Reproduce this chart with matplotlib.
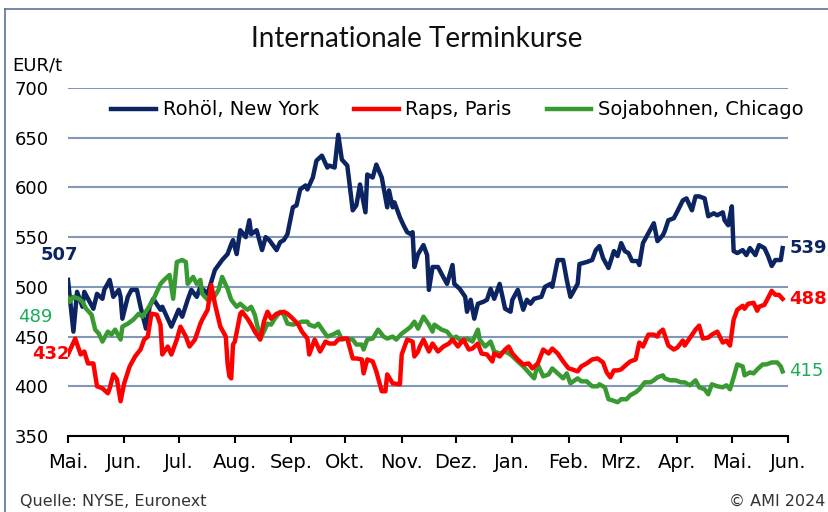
# Internationale Terminkurse: Rohöl, Raps, Soja (EUR/t), Mai 2023 - Mai 2024

import pandas as pd
import matplotlib.pyplot as plt
from matplotlib.lines import Line2D

# Data: day offset from 2023-05-01, price in EUR/t
start = pd.Timestamp('2023-05-01')

crude_day = [0, 3, 5, 8, 9, 14, 16, 19, 20, 23, 25, 28, 29, 30, 33, 35, 38, 40, 43, 45,
             47, 51, 52, 57, 61, 63, 66, 68, 71, 73, 77, 81, 85, 88, 90, 91, 93, 95, 98, 100,
             101, 104, 107, 109, 111, 115, 117, 119, 121, 124, 126, 128, 131, 132, 135, 137, 140, 143, 144, 147,
             149, 151, 154, 157, 159, 161, 164, 165, 168, 170, 173, 176, 177, 179, 180, 183, 185, 187, 189, 190,
             191, 193, 196, 198, 199, 201, 204, 206, 209, 212, 213, 216, 219, 220, 222, 224, 226, 229, 231, 233,
             235, 238, 241, 244, 245, 248, 251, 253, 255, 257, 261, 263, 266, 267, 270, 271, 273, 275, 277, 281,
             282, 286, 289, 291, 293, 295, 298, 301, 303, 305, 307, 309, 311, 314, 315, 317, 320, 323, 325, 328,
             329, 331, 334, 336, 339, 341, 344, 346, 348, 351, 353, 356, 358, 361, 362, 364, 366, 367, 369, 372,
             374, 376, 379, 381, 384, 386, 388, 390, 393, 394]
crude_val = [507, 455, 495, 480, 495, 478, 493, 488, 497, 507, 490, 497, 490, 468, 490, 497, 497, 480, 458, 480,
             488, 477, 480, 460, 477, 470, 487, 497, 490, 500, 493, 517, 527, 533, 543, 547, 533, 557, 550, 567,
             553, 557, 537, 550, 547, 537, 545, 547, 553, 580, 582, 598, 602, 598, 610, 627, 632, 620, 622, 620,
             653, 628, 622, 577, 582, 603, 575, 613, 610, 623, 610, 580, 597, 580, 585, 570, 562, 555, 553, 555,
             520, 533, 542, 532, 497, 520, 520, 513, 503, 522, 503, 498, 490, 475, 487, 468, 483, 485, 487, 498,
             488, 503, 478, 475, 487, 497, 477, 487, 483, 488, 490, 500, 503, 500, 527, 527, 527, 507, 490, 503,
             523, 525, 527, 537, 541, 529, 519, 536, 531, 544, 536, 534, 526, 526, 522, 544, 554, 564, 546, 552,
             556, 567, 569, 576, 587, 589, 577, 591, 591, 589, 571, 574, 572, 575, 567, 562, 581, 536, 534, 537,
             532, 539, 532, 542, 539, 531, 521, 527, 527, 539]

rape_day = [0, 2, 4, 7, 9, 11, 14, 16, 19, 22, 23, 25, 27, 29, 31, 34, 37, 40, 42, 44,
            46, 49, 51, 52, 55, 57, 60, 62, 65, 67, 70, 73, 74, 77, 79, 81, 84, 87, 88, 89,
            90, 91, 92, 95, 96, 99, 101, 103, 106, 108, 110, 112, 115, 119, 121, 124, 127, 129, 132, 133,
            136, 139, 142, 144, 147, 149, 152, 154, 157, 159, 162, 163, 165, 168, 170, 173, 175, 176, 179, 183,
            184, 187, 190, 191, 193, 194, 196, 199, 201, 204, 207, 210, 212, 215, 218, 221, 223, 226, 228, 231,
            234, 235, 238, 241, 243, 245, 248, 251, 254, 256, 259, 262, 265, 267, 270, 273, 276, 278, 281, 283,
            286, 289, 292, 295, 297, 299, 301, 303, 305, 308, 310, 313, 315, 317, 320, 323, 325, 326, 328, 331,
            334, 336, 339, 340, 343, 346, 348, 350, 353, 355, 358, 361, 363, 365, 367, 369, 372, 373, 375, 378,
            380, 381, 384, 386, 388, 390, 392, 394]
rape_val = [432, 440, 448, 432, 435, 423, 423, 400, 398, 393, 398, 412, 407, 385, 403, 420, 430, 437, 447, 450,
            473, 472, 462, 432, 440, 432, 447, 460, 450, 440, 447, 463, 467, 477, 502, 483, 460, 450, 423, 410,
            408, 442, 445, 473, 475, 468, 462, 455, 447, 465, 475, 468, 473, 475, 473, 468, 462, 455, 448, 432,
            447, 435, 445, 443, 443, 447, 448, 448, 428, 428, 427, 413, 427, 425, 415, 395, 395, 412, 403, 402,
            432, 447, 445, 430, 435, 440, 447, 435, 443, 435, 440, 443, 447, 440, 447, 437, 438, 443, 433, 432,
            425, 433, 430, 437, 440, 433, 427, 422, 423, 418, 423, 437, 433, 438, 433, 425, 418, 417, 415, 420,
            423, 427, 428, 424, 414, 409, 416, 416, 417, 422, 425, 427, 444, 440, 452, 452, 450, 454, 457, 441,
            437, 439, 446, 441, 449, 457, 461, 448, 449, 452, 455, 444, 446, 441, 467, 477, 481, 478, 483, 484,
            476, 480, 482, 489, 496, 492, 492, 488]

soy_day = [0, 1, 3, 6, 8, 10, 13, 15, 17, 19, 22, 24, 26, 29, 30, 33, 36, 39, 41, 44,
           47, 49, 51, 53, 56, 58, 60, 63, 65, 66, 69, 71, 73, 74, 77, 80, 83, 85, 88, 90,
           93, 95, 98, 99, 101, 103, 106, 108, 110, 112, 114, 117, 119, 121, 124, 126, 129, 132, 133, 136,
           138, 141, 143, 146, 149, 151, 153, 157, 159, 162, 163, 165, 168, 171, 174, 176, 179, 181, 184, 187,
           189, 191, 193, 196, 199, 201, 202, 206, 209, 212, 214, 217, 220, 223, 226, 227, 230, 233, 235, 238,
           241, 244, 248, 251, 255, 257, 259, 262, 265, 267, 270, 273, 275, 277, 281, 283, 286, 289, 292, 293,
           296, 298, 300, 303, 305, 308, 310, 313, 315, 318, 321, 323, 325, 328, 329, 332, 335, 338, 340, 343,
           346, 348, 351, 353, 355, 358, 361, 363, 365, 367, 369, 372, 373, 376, 378, 380, 383, 385, 388, 391,
           393, 394]
soy_val = [489, 485, 490, 488, 485, 478, 472, 457, 453, 445, 455, 452, 457, 447, 460, 463, 467, 473, 470, 478,
           487, 495, 503, 507, 512, 488, 525, 527, 525, 503, 510, 503, 507, 493, 487, 488, 497, 510, 498, 487,
           480, 483, 478, 477, 480, 472, 448, 455, 463, 462, 468, 475, 472, 463, 462, 463, 465, 465, 462, 460,
           463, 455, 450, 452, 455, 447, 448, 447, 442, 442, 437, 447, 448, 457, 450, 448, 450, 447, 453, 457,
           460, 465, 458, 470, 462, 455, 462, 457, 455, 448, 450, 445, 448, 445, 457, 447, 440, 445, 435, 433,
           435, 432, 425, 420, 412, 408, 422, 410, 412, 418, 413, 408, 413, 403, 408, 405, 405, 400, 400, 402,
           399, 387, 386, 384, 387, 387, 391, 394, 397, 404, 404, 406, 409, 411, 408, 406, 406, 404, 404, 401,
           406, 399, 397, 392, 402, 400, 399, 401, 397, 409, 422, 420, 411, 414, 413, 417, 422, 422, 424, 424,
           420, 415]

month_labels = ['Mai.', 'Jun.', 'Jul.', 'Aug.', 'Sep.', 'Okt.', 'Nov.', 'Dez.',
                'Jan.', 'Feb.', 'Mrz.', 'Apr.', 'Mai.', 'Jun.']

navy = '#0c2461'
red = '#ff0000'
green = '#3a9a32'
green_txt = '#19ad5a'
grid_col = '#8298b6'

plt.rcParams['font.family'] = ['DejaVu Sans']

fig = plt.figure(figsize=(8.29, 5.12), dpi=100)
ax = fig.add_axes([0.082, 0.1484, 0.8686, 0.6797])

def to_dates(days):
    return start + pd.to_timedelta(days, unit='D')

ax.plot(to_dates(crude_day), crude_val, color=navy, lw=3.2, label='Rohöl, New York', solid_joinstyle='round')
ax.plot(to_dates(soy_day), soy_val, color=green, lw=3.2, label='Sojabohnen, Chicago', solid_joinstyle='round')
ax.plot(to_dates(rape_day), rape_val, color=red, lw=3.2, label='Raps, Paris', solid_joinstyle='round')

# axes
ax.set_xlim(start, pd.Timestamp('2024-06-01'))
ax.set_ylim(350, 700)
ax.set_yticks(range(350, 701, 50))
ax.yaxis.grid(True, color=grid_col, lw=1.5)
ax.set_axisbelow(True)
for s in ['left', 'right', 'top']:
    ax.spines[s].set_visible(False)
ax.spines['bottom'].set_color('black')
ax.spines['bottom'].set_linewidth(1.5)
ax.spines['bottom'].set_zorder(5)
ax.tick_params(axis='y', length=0, pad=14, labelsize=13)
ax.set_xticks(pd.date_range('2023-05-01', '2024-06-01', freq='MS'))
ax.set_xticklabels(month_labels)
ax.tick_params(axis='x', direction='out', length=5, width=1.5, pad=7, labelsize=14)

# legend (order as in reference)
h, l = ax.get_legend_handles_labels()
order = [0, 2, 1]
ax.legend([h[i] for i in order], [l[i] for i in order], loc='center', bbox_to_anchor=(0.541, 0.937),
          ncol=3, frameon=False, fontsize=14, handlelength=2.3, handletextpad=0.35,
          columnspacing=1.8)

# start / end values
first = start
last = to_dates([crude_day[-1]])[0]
ax.annotate(str(crude_val[0]), (first, crude_val[0]), xytext=(7, 18), textcoords='offset points',
            ha='right', va='center', color=navy, fontsize=13, fontweight='bold')
ax.annotate(str(soy_val[0]), (first, soy_val[0]), xytext=(-11, -14), textcoords='offset points',
            ha='right', va='center', color=green_txt, fontsize=13)
ax.annotate(str(rape_val[0]), (first, rape_val[0]), xytext=(1, 0), textcoords='offset points',
            ha='right', va='center', color=red, fontsize=13, fontweight='bold')
ax.annotate(str(crude_val[-1]), (last, crude_val[-1]), xytext=(5, 0), textcoords='offset points',
            ha='left', va='center', color=navy, fontsize=13, fontweight='bold', annotation_clip=False)
ax.annotate(str(rape_val[-1]), (last, rape_val[-1]), xytext=(5, 0), textcoords='offset points',
            ha='left', va='center', color=red, fontsize=13, fontweight='bold', annotation_clip=False)
ax.annotate(str(soy_val[-1]), (last, soy_val[-1]), xytext=(5, 0), textcoords='offset points',
            ha='left', va='center', color=green_txt, fontsize=13, annotation_clip=False)

# texts around
fig.text(0.503, 1 - 39 / 512, 'Internationale Terminkurse', ha='center', va='center',
         fontsize=20, family='Lato', color='#111111')
fig.text(12 / 829, 1 - 66 / 512, 'EUR/t', ha='left', va='center', fontsize=13)
fig.text(20 / 829, 1 - 494 / 512, 'Quelle: NYSE, Euronext', ha='left', va='top',
         fontsize=11.5, color='#333333')
fig.text(825 / 829, 1 - 494 / 512, '© AMI 2024', ha='right', va='top',
         fontsize=11.5, color='#333333')

# frame
border = '#5b7399'
fig.add_artist(Line2D([5 / 829, 5 / 829], [0, 1 - 9 / 512], color=border, lw=1.2))
fig.add_artist(Line2D([5 / 829, 1], [1 - 9 / 512, 1 - 9 / 512], color=border, lw=1.2))

plt.savefig('out.png', dpi=100)
